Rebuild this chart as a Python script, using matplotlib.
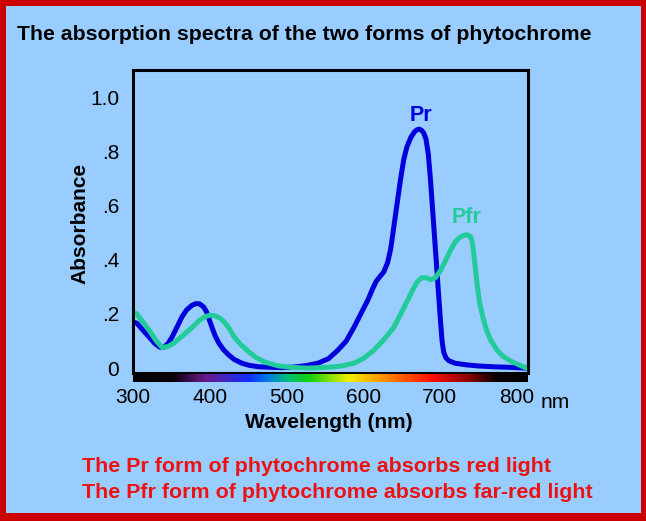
import numpy as np
import matplotlib
matplotlib.use('Agg')
import matplotlib.pyplot as plt
from matplotlib import font_manager
from matplotlib.colors import LinearSegmentedColormap
from matplotlib.patches import Rectangle
from matplotlib.transforms import blended_transform_factory

# absorption spectra (wavelength in nm, absorbance)
pr_nm = [300, 305, 313, 321, 328, 335, 340, 346, 351, 358, 364, 370, 377, 382, 387,
         392, 396, 399, 403, 407, 412, 418, 425, 432, 442, 452, 464, 480, 495, 510,
         525, 541, 555, 567, 578, 588, 597, 606, 612, 617, 622, 627, 632, 636, 640,
         645, 649, 653, 657, 662, 667, 670, 673, 676, 679, 682, 685, 688, 690, 692,
         694, 697, 699, 701, 703, 705, 708, 712, 720, 735, 750, 770, 790, 813]
pr_abs = [0.17, 0.166, 0.14, 0.115, 0.092, 0.077, 0.076, 0.092, 0.115, 0.155, 0.19,
          0.215, 0.232, 0.238, 0.237, 0.226, 0.207, 0.182, 0.15, 0.12, 0.092, 0.068,
          0.048, 0.032, 0.018, 0.01, 0.005, 0.003, 0.002, 0.004, 0.009, 0.018, 0.035,
          0.066, 0.1, 0.15, 0.2, 0.25, 0.29, 0.32, 0.338, 0.355, 0.39, 0.44, 0.52,
          0.62, 0.70, 0.77, 0.815, 0.85, 0.872, 0.879, 0.882, 0.878, 0.868, 0.845,
          0.79, 0.69, 0.61, 0.53, 0.45, 0.33, 0.25, 0.17, 0.1, 0.06, 0.038, 0.027,
          0.018, 0.012, 0.008, 0.005, 0.003, 0.0]

pfr_nm = [300, 305, 313, 321, 330, 338, 346, 355, 365, 377, 386, 394, 400, 406, 413,
          419, 425, 432, 440, 451, 460, 472, 490, 510, 530, 554, 570, 588, 600, 614,
          627, 640, 650, 658, 665, 671, 677, 683, 688, 694, 701, 708, 714, 720, 725,
          731, 736, 740, 742, 744, 746, 749, 752, 756, 761, 766, 775, 783, 795, 805,
          813]
pfr_abs = [0.205, 0.20, 0.17, 0.14, 0.102, 0.076, 0.08, 0.096, 0.12, 0.15, 0.175,
           0.19, 0.195, 0.194, 0.185, 0.17, 0.148, 0.115, 0.088, 0.06, 0.04, 0.022,
           0.008, 0.002, 0.0, 0.003, 0.007, 0.018, 0.035, 0.066, 0.105, 0.15, 0.205,
           0.25, 0.29, 0.32, 0.334, 0.333, 0.326, 0.333, 0.36, 0.40, 0.435, 0.465,
           0.48, 0.49, 0.492, 0.485, 0.47, 0.43, 0.38, 0.30, 0.24, 0.19, 0.14, 0.105,
           0.065, 0.042, 0.022, 0.01, 0.0]

x_ticks = [300, 400, 500, 600, 700, 800]
y_ticks = [0, 0.2, 0.4, 0.6, 0.8, 1.0]
y_ticklabels = ['0', '.2', '.4', '.6', '.8', '1.0']

# colour stops of the visible-spectrum strip under the axis
spec_nm = [300, 350, 394, 451, 477, 503, 529, 582, 634, 690, 742, 772, 815]
spec_col = ['#000000', '#0a0008', '#6a1a8a', '#1030ff', '#0080e0', '#00c070',
            '#10d010', '#f0f000', '#ff8000', '#ff1000', '#800000', '#100000', '#000000']

title = 'The absorption spectra of the two forms of phytochrome'
notes = ['The Pr form of phytochrome absorbs red light',
         'The Pfr form of phytochrome absorbs far-red light']

# narrow face if present, else plain sans at a smaller size
try:
    font_manager.findfont(font_manager.FontProperties(family='Liberation Sans Narrow'),
                          fallback_to_default=False)
    head_fam, head_size, note_size = ['Liberation Sans Narrow'], 17, 16.5
except ValueError:
    head_fam, head_size, note_size = ['Liberation Sans'], 15.3, 15.4

plt.rcParams['font.family'] = ['Liberation Sans', 'DejaVu Sans']

W, H = 646, 521
BG = '#99CCFF'
PR_C = '#0000DD'
PFR_C = '#22CC99'

fig = plt.figure(figsize=(W / 100, H / 100), dpi=100)
fig.patch.set_facecolor('#CC0000')
fig.add_artist(Rectangle((6 / W, 8 / H), (W - 11) / W, (H - 14) / H,
                         transform=fig.transFigure, facecolor=BG,
                         edgecolor='none', zorder=-5))

ax = fig.add_axes([133 / W, 1 - 373 / H, 395 / W, 303 / H])
ax.set_facecolor(BG)
ax.plot(pr_nm, pr_abs, color=PR_C, lw=3.6, solid_joinstyle='round', solid_capstyle='round')
ax.plot(pfr_nm, pfr_abs, color=PFR_C, lw=3.6, solid_joinstyle='round', solid_capstyle='round')
ax.set_xlim(300, 815)
ax.set_ylim(-0.018, 1.10)
ax.set_xticks(x_ticks)
ax.set_yticks(y_ticks)
ax.set_yticklabels(y_ticklabels)
ax.tick_params(length=0, labelsize=15)
ax.tick_params(axis='y', pad=10)
ax.tick_params(axis='x', pad=11)
for s in ax.spines.values():
    s.set_linewidth(2.2)
    s.set_color('black')

ax.text(676, 0.91, 'Pr', color=PR_C, fontsize=15.5, fontweight='bold',
        ha='center', va='baseline')
ax.text(735, 0.535, 'Pfr', color=PFR_C, fontsize=15.5, fontweight='bold',
        ha='center', va='baseline')

trans = blended_transform_factory(ax.transData, ax.transAxes)
ax.text(831, -0.066, 'nm', transform=trans, fontsize=15, ha='left', va='top')

# spectrum strip
bar = fig.add_axes([133 / W, 1 - 382 / H, 395 / W, 8 / H])
pos = [(v - 300) / (815 - 300) for v in spec_nm]
cmap = LinearSegmentedColormap.from_list('spec', list(zip(pos, spec_col)))
bar.imshow(np.linspace(0, 1, 600)[None, :], aspect='auto', cmap=cmap,
           extent=[300, 815, 0, 1])
bar.axis('off')

fig.text(80 / W, 1 - 223 / H, 'Absorbance', rotation=90, fontsize=15,
         fontweight='bold', ha='center', va='center')
fig.text(329 / W, 1 - 428 / H, 'Wavelength (nm)', fontsize=15,
         fontweight='bold', ha='center', va='baseline')

fig.text(17 / W, 1 - 40 / H, title, family=head_fam, fontsize=head_size,
         fontweight='bold', ha='left', va='baseline')
fig.text(82 / W, 1 - 472 / H, notes[0], family=head_fam, fontsize=note_size,
         fontweight='bold', color='#EE1111', ha='left', va='baseline')
fig.text(82 / W, 1 - 498 / H, notes[1], family=head_fam, fontsize=note_size,
         fontweight='bold', color='#EE1111', ha='left', va='baseline')

fig.savefig('out.png', dpi=100, facecolor=fig.get_facecolor())
